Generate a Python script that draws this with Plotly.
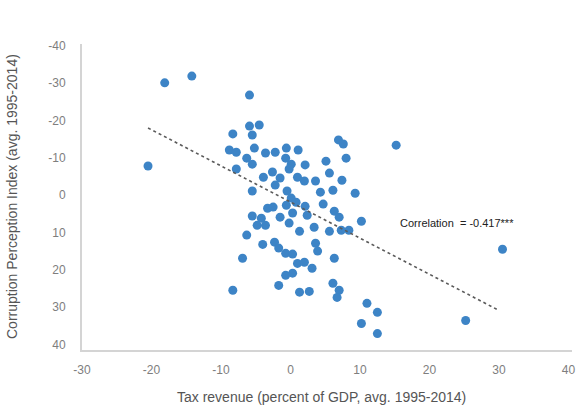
import plotly.graph_objects as go

# Tax revenue (percent of GDP, avg. 1995-2014)
tax_revenue = [
    -18.1, -14.2, -20.5, -5.9, -8.3, -5.9, -4.5, -5.5, -8.8, -7.8,
    -5.2, -6.3, -5.5, -3.6, -2.2, -0.6, 1.1, -0.7, 0.1, 2.1,
    5.1, 6.9, 7.6, 8.0, -7.8, -3.9, -2.6, -1.5, -0.2, 1.0,
    2.0, 3.6, 5.6, 7.4, -5.5, -2.2, -0.5, 4.3, 6.1, 9.3,
    0.1, 0.8, -3.3, 2.1, 4.7, -2.5, -0.6, 6.3, -5.5, -4.2,
    -1.5, 0.3, 2.4, 7.0, 10.2, -4.8, -3.6, -0.2, 1.3, 3.4,
    5.6, 7.3, 8.4, -6.3, -4.0, -2.3, -1.7, -0.7, 0.3, 3.6,
    3.9, -6.9, 1.0, 2.0, 3.1, 6.3, -0.7, 0.3, -1.7, 1.3,
    2.7, 6.1, 7.0, 6.7, -8.3, 11.0, 12.5, 10.2, 12.5, 25.2,
    15.2, 30.5,
]
# Corruption Perception Index (avg. 1995-2014)
cpi = [
    -30.1, -31.9, -7.8, -26.8, -16.4, -18.5, -18.8, -16.1, -12.1, -11.5,
    -12.6, -9.9, -8.3, -11.3, -11.5, -12.6, -12.1, -9.9, -8.3, -8.1,
    -9.1, -14.8, -13.7, -9.9, -7.0, -4.8, -6.2, -4.6, -7.0, -4.8,
    -3.8, -3.8, -5.9, -4.0, -1.1, -2.7, -1.1, -0.8, -1.3, -0.5,
    0.8, 1.9, 3.5, 3.0, 2.4, 3.2, 2.7, 4.3, 5.6, 6.2,
    5.9, 4.8, 5.4, 5.9, 7.0, 8.1, 8.1, 7.5, 9.7, 8.6,
    9.7, 9.4, 9.4, 10.7, 13.2, 12.6, 14.2, 15.6, 15.8, 12.9,
    15.0, 16.9, 18.3, 18.0, 19.6, 16.9, 21.5, 20.9, 24.2, 26.0,
    25.8, 23.6, 25.5, 27.4, 25.5, 29.0, 31.4, 34.4, 37.1, 33.6,
    -13.4, 14.5,
]

trend_x = [-20.5, 30.0]
trend_y = [-18.0, 30.9]

x_ticks = [-30, -20, -10, 0, 10, 20, 30, 40]
y_ticks = [-40, -30, -20, -10, 0, 10, 20, 30, 40]

correlation_label = "Correlation  = -0.417***"
x_title = "Tax revenue (percent of GDP, avg. 1995-2014)"
y_title = "Corruption Perception Index (avg. 1995-2014)"

fig = go.Figure()
fig.add_trace(go.Scatter(
    x=tax_revenue, y=cpi, mode="markers",
    marker=dict(size=9, color="#3d84c6", line=dict(width=0)),
    hoverinfo="x+y", showlegend=False,
))
fig.add_trace(go.Scatter(
    x=trend_x, y=trend_y, mode="lines",
    line=dict(color="#5a5a5a", width=1.6, dash="dot"),
    hoverinfo="skip", showlegend=False,
))

tick_font = dict(family="Liberation Sans Narrow, Arial Narrow, Liberation Sans, sans-serif",
                 size=12, color="#7e7e7e")

fig.update_layout(
    width=579, height=409,
    margin=dict(l=82, r=7, t=44, b=59),
    paper_bgcolor="white", plot_bgcolor="white",
    xaxis=dict(
        range=[-30, 40.5], tickvals=x_ticks, ticktext=[str(v) for v in x_ticks],
        showgrid=False, zeroline=False, showline=True, linecolor="#d4d4d4",
        linewidth=2, ticks="", tickfont=tick_font, ticklabelstandoff=8,
        automargin=False,
    ),
    yaxis=dict(
        range=[41.5, -40.5], tickvals=y_ticks, ticktext=[str(v) for v in y_ticks],
        showgrid=False, zeroline=False, showline=True, linecolor="#d4d4d4",
        linewidth=2, ticks="", tickfont=tick_font, ticklabelstandoff=12,
        automargin=False,
    ),
    annotations=[
        dict(text=correlation_label, x=24.0, y=7.5, xref="x", yref="y",
             showarrow=False,
             font=dict(family="Liberation Sans Narrow, Arial Narrow, sans-serif",
                       size=11, color="#222222")),
        dict(text=x_title, x=0.5, y=0, xref="paper", yref="paper",
             yshift=-47, xshift=-6, showarrow=False, yanchor="middle",
             font=dict(family="Liberation Sans, Arial, sans-serif", size=14, color="#555555")),
        dict(text=y_title, x=0, y=0.5, xref="paper", yref="paper",
             xshift=-70, showarrow=False, textangle=-90, xanchor="center",
             font=dict(family="Liberation Sans, Arial, sans-serif", size=14, color="#555555")),
    ],
)

fig.write_html(
    "out.html",
    config={"displayModeBar": False},
    post_script="document.body.style.margin='0';document.body.style.overflow='hidden';",
)
